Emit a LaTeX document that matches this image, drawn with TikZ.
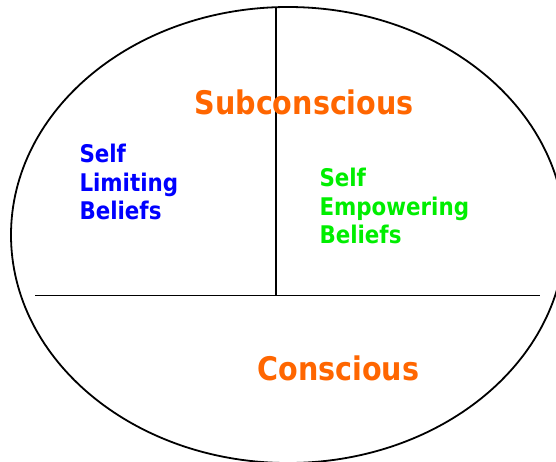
\documentclass[tikz,border=0pt]{standalone}
\usepackage{fontspec}
\setmainfont[FakeStretch=0.88,BoldFont={DejaVu Sans Bold}]{DejaVu Sans}
\definecolor{orangeT}{RGB}{255,102,0}
\definecolor{blueT}{RGB}{0,0,255}
\definecolor{greenT}{RGB}{0,238,0}
\begin{document}
\begin{tikzpicture}[x=1pt,y=-1pt,
  divider/.style={black,line width=1.7pt},
  bigtitle/.style={text=orangeT,font=\bfseries\fontsize{32.5}{38}\selectfont,inner sep=0pt,anchor=base},
  belief/.style={font=\bfseries\fontsize{24.3}{28.2}\selectfont,align=left,inner sep=0pt,anchor=north west}]
\useasboundingbox (0,0) rectangle (556,461);
\clip (0,0) rectangle (556,461);
\draw[divider,line width=1.8pt] (288,235) ellipse [x radius=277, y radius=228];
\coordinate (top) at (276,7);
\coordinate (mid) at (276,295.5);
\coordinate (hl) at (35,295.5);
\coordinate (hr) at (540,295.5);
\draw[divider] (hl) -- (hr);
\draw[divider] (top) -- (mid);
\node[bigtitle] (sub) at (304.2,114.3) {Subconscious};
\node[bigtitle] (con) at (338.3,380) {Conscious};
\node[belief,text=blueT] (lim) at (79.3,144.3) {Self\\Limiting\\Beliefs};
\node[belief,text=greenT] (emp) at (319.3,168.3) {Self\\Empowering\\Beliefs};
\end{tikzpicture}
\end{document}
